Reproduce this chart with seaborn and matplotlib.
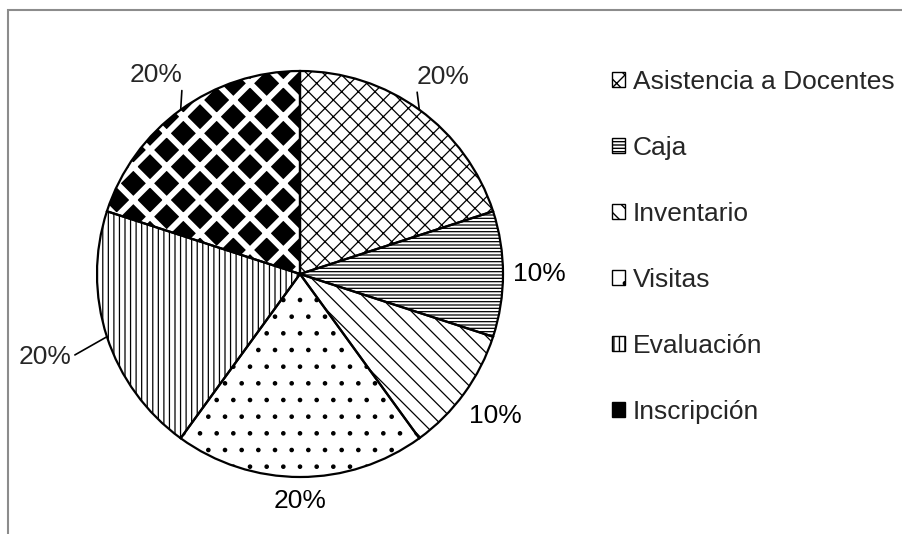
import numpy as np
import matplotlib
matplotlib.use("Agg")
import matplotlib.pyplot as plt
import matplotlib.patches as mpatches
import seaborn as sns

# Chart data
categories = ["Asistencia a Docentes", "Caja", "Inventario", "Visitas", "Evaluación", "Inscripción"]
values = [20, 10, 10, 20, 20, 20]

# Fill style per slice (black & white patterns)
hatches = ["xx", "-----", "\\\\", ".", "|||", "x"]
face_colors = ["white", "white", "white", "white", "white", "black"]
hatch_colors = ["black", "black", "black", "black", "black", "white"]
label_dist = [1.2, 1.18, 1.19, 1.12, 1.32, 1.21]

sns.set_theme(style="white")
plt.rcParams["font.family"] = ["Liberation Sans", "DejaVu Sans"]

fig = plt.figure(figsize=(9.02, 5.34), dpi=100)
fig.patch.set_facecolor("white")

# pie centre at (300, 274) px, radius ~203 px
cx, cy, r = 300, 274, 203
half = 1.5 * r
ax = fig.add_axes([(cx - half) / 902, (534 - cy - half) / 534, 2 * half / 902, 2 * half / 534])

# layer 1: patterned fills
wedges, _ = ax.pie(values, startangle=90, counterclock=False, radius=1,
                   wedgeprops=dict(linewidth=0))
for w, h, fc, hc in zip(wedges, hatches, face_colors, hatch_colors):
    w.set_facecolor(fc)
    w.set_edgecolor(hc)
    w.set_hatch(h)
    if hasattr(w, "set_hatch_linewidth"):
        w.set_hatch_linewidth(4.2 if fc == "black" else 0.9)

# layer 2: outlines and percentage labels
outl, _, pct = ax.pie(values, startangle=90, counterclock=False, radius=1,
                      autopct="%1.0f%%", pctdistance=1.2,
                      wedgeprops=dict(fill=False, edgecolor="black", linewidth=1.6),
                      textprops=dict(fontsize=19, color="black"))

for i, (w, t) in enumerate(zip(outl, pct)):
    ang = np.deg2rad((w.theta1 + w.theta2) / 2)
    t.set_position((label_dist[i] * np.cos(ang), label_dist[i] * np.sin(ang)))
    t.set_ha("center")
    t.set_va("center")

# leader lines for the labels sitting further out
for i, relpos in [(0, (0.0, 0.0)), (4, (1.0, 0.5)), (5, (1.0, 0.0))]:
    w = outl[i]
    ang = np.deg2rad((w.theta1 + w.theta2) / 2)
    tx, ty = pct[i].get_position()
    pct[i].set_visible(False)
    ax.annotate(pct[i].get_text(), xy=(np.cos(ang), np.sin(ang)), xytext=(tx, ty),
                ha="center", va="center", fontsize=19,
                arrowprops=dict(arrowstyle="-", color="black", lw=1.2,
                                shrinkA=0, shrinkB=0, relpos=relpos))

ax.set_xlim(-1.5, 1.5)
ax.set_ylim(-1.5, 1.5)
ax.set_aspect("auto")
ax.axis("off")

# legend with small patterned squares
handles = []
for h, fc in zip(hatches, face_colors):
    handles.append(mpatches.Patch(facecolor=fc, edgecolor="black", hatch=h if fc == "white" else None,
                                  linewidth=1))
fig.legend(handles, categories, loc="upper left", bbox_to_anchor=(612 / 902, 1 - 70 / 534),
           frameon=False, fontsize=19, handlelength=0.5, handleheight=0.5,
           handletextpad=0.3, labelspacing=1.59, borderpad=0, borderaxespad=0)

# outer chart-area border (only top and left visible)
fig.add_artist(mpatches.Rectangle((8 / 902, -0.1), 1.0, (534 - 10) / 534 + 0.1,
                                  transform=fig.transFigure, fill=False,
                                  edgecolor="#8c8c8c", linewidth=1.5))

fig.savefig("out.png", dpi=100)
